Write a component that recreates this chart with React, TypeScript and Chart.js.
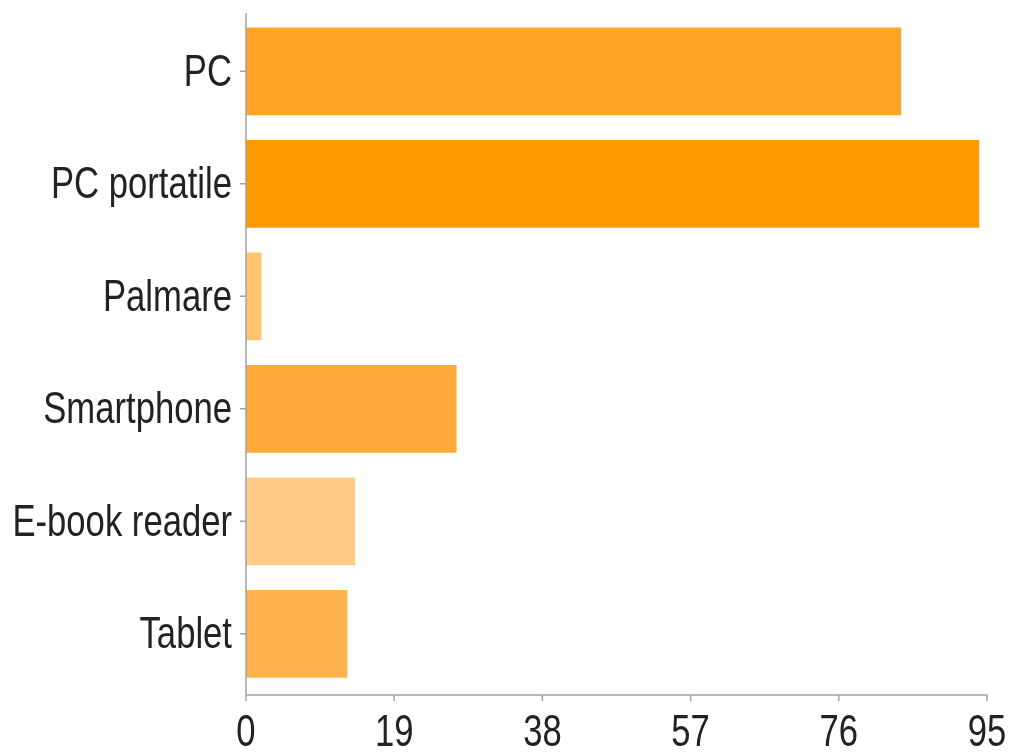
import React, { useEffect, useRef } from "react";
import { Chart, registerables } from "chart.js";

Chart.register(...registerables);

const categories = ["PC", "PC portatile", "Palmare", "Smartphone", "E-book reader", "Tablet"];
const values = [84, 94, 2, 27, 14, 13];
const barColors = ["#FFA424", "#FF9900", "#FFC46E", "#FFAA3A", "#FFCC88", "#FFB24E"];
const xTicks = [0, 19, 38, 57, 76, 95];

const FONT_FAMILY = "'Liberation Sans', Arial, sans-serif";
const FONT_SIZE = 45;
const SQUEEZE = 0.77;
const AXIS_COLOR = "#9fa3a8";
const TEXT_COLOR = "#222";

const axesPlugin = {
  id: "narrowAxes",
  afterDraw(chart: any) {
    const { ctx, chartArea, scales } = chart;
    const x = scales.x;
    const y = scales.y;
    const axisX = x.getPixelForValue(0);
    const axisY = chartArea.bottom + 5;
    const topY = chartArea.top - 2;
    ctx.save();
    ctx.strokeStyle = AXIS_COLOR;
    ctx.lineWidth = 1.5;
    ctx.beginPath();
    ctx.moveTo(axisX, topY);
    ctx.lineTo(axisX, axisY);
    ctx.lineTo(x.getPixelForValue(95) + 0.5, axisY);
    // y ticks
    categories.forEach((_, i) => {
      const py = y.getPixelForValue(i);
      ctx.moveTo(axisX, py);
      ctx.lineTo(axisX - 6, py);
    });
    // x ticks
    xTicks.forEach((v) => {
      const px = x.getPixelForValue(v);
      ctx.moveTo(px, axisY);
      ctx.lineTo(px, axisY + 6);
    });
    ctx.stroke();

    ctx.fillStyle = TEXT_COLOR;
    ctx.font = `${FONT_SIZE}px ${FONT_FAMILY}`;
    ctx.textBaseline = "middle";
    // y labels
    ctx.textAlign = "right";
    categories.forEach((label, i) => {
      const py = y.getPixelForValue(i);
      ctx.save();
      ctx.translate(axisX - 14, py + 2);
      ctx.scale(SQUEEZE, 1);
      ctx.fillText(label, 0, 0);
      ctx.restore();
    });
    // x labels
    ctx.textAlign = "center";
    xTicks.forEach((v) => {
      const px = x.getPixelForValue(v);
      ctx.save();
      ctx.translate(px, axisY + 39);
      ctx.scale(SQUEEZE, 1);
      ctx.fillText(String(v), 0, 0);
      ctx.restore();
    });
    ctx.restore();
  },
};

export default function App() {
  const ref = useRef<HTMLCanvasElement | null>(null);
  useEffect(() => {
    document.body.style.margin = "0";
    const ctx = ref.current!;
    const chart = new Chart(ctx, {
      type: "bar",
      data: {
        labels: categories,
        datasets: [
          {
            data: values,
            backgroundColor: barColors,
            borderWidth: 0,
            barPercentage: 0.78,
            categoryPercentage: 1,
          },
        ],
      },
      options: {
        indexAxis: "y",
        animation: false,
        responsive: true,
        maintainAspectRatio: false,
        layout: { padding: { top: 15, right: 25, left: 0, bottom: 0 } },
        plugins: { legend: { display: false }, tooltip: { enabled: false } },
        scales: {
          x: {
            type: "linear",
            min: 0,
            max: 95,
            afterFit: (scale: any) => {
              scale.height = 63;
            },
            ticks: { display: false },
            grid: { display: false },
            border: { display: false },
          },
          y: {
            type: "category",
            afterFit: (scale: any) => {
              scale.width = 246;
            },
            ticks: { display: false },
            grid: { display: false },
            border: { display: false },
          },
        },
      },
      plugins: [axesPlugin],
    });
    return () => chart.destroy();
  }, []);
  return (
    <div style={{ width: 1012, height: 753, position: "relative" }}>
      <canvas ref={ref} />
    </div>
  );
}
